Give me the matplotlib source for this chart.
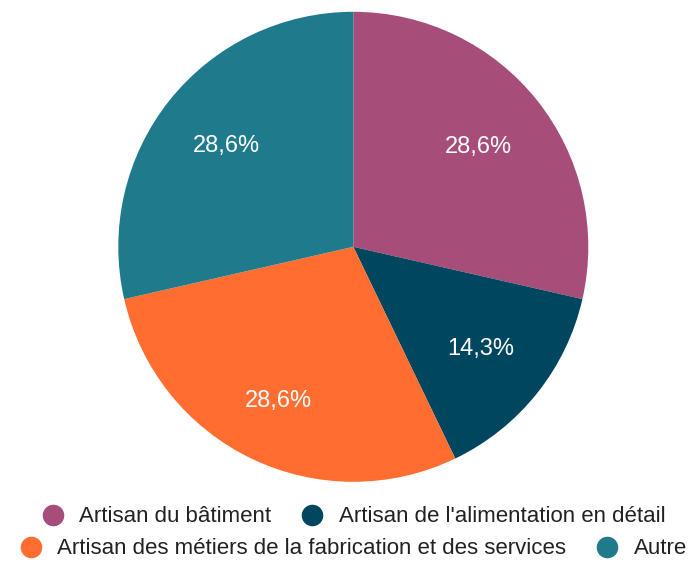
import numpy as np
import matplotlib.pyplot as plt
from matplotlib.lines import Line2D

plt.rcParams['font.family'] = ['Liberation Sans', 'DejaVu Sans']

categories = ['Artisan du bâtiment', "Artisan de l'alimentation en détail",
              'Artisan des métiers de la fabrication et des services', 'Autre']
counts = [2, 1, 2, 2]
colors = ['#A64D79', '#01465F', '#FF6D31', '#1F7A8C']
label_dist = [0.68, 0.695, 0.73, 0.69]

W, H = 689, 561
fig = plt.figure(figsize=(W / 100, H / 100), dpi=100)
ax = fig.add_axes([0, 0, 1, 1])

cx, cy, r = 353.3, H - 246.8, 235


def fmt(p):
    return f'{p:.1f}%'.replace('.', ',')


wedges, texts, autotexts = ax.pie(counts, colors=colors, startangle=90, counterclock=False,
                                  center=(cx, cy), radius=r, autopct=fmt, pctdistance=0.69,
                                  textprops={'color': 'white', 'fontsize': 17})
# google-style label placement: nudge each percentage along its wedge bisector
for w, t, d in zip(wedges, autotexts, label_dist):
    ang = np.deg2rad((w.theta1 + w.theta2) / 2)
    t.set_position((cx + d * r * np.cos(ang), cy + d * r * np.sin(ang)))

ax.set_xlim(0, W)
ax.set_ylim(0, H)
ax.set_aspect('equal')
ax.axis('off')

handles = [Line2D([], [], linestyle='none', marker='o', markersize=14.5,
                  markerfacecolor=c, markeredgecolor=c) for c in colors]

rows = [(0, 1, 517), (2, 3, 549)]
for i, j, y in rows:
    leg = fig.legend([handles[i], handles[j]], [categories[i], categories[j]],
                     loc='center', bbox_to_anchor=(353.5 / W, 1 - y / H), ncol=2,
                     frameon=False, fontsize=16, handlelength=1.0, handletextpad=0.68,
                     columnspacing=1.35, borderpad=0, borderaxespad=0)
    for t in leg.get_texts():
        t.set_color('#222222')

fig.savefig('out.png', dpi=100)
